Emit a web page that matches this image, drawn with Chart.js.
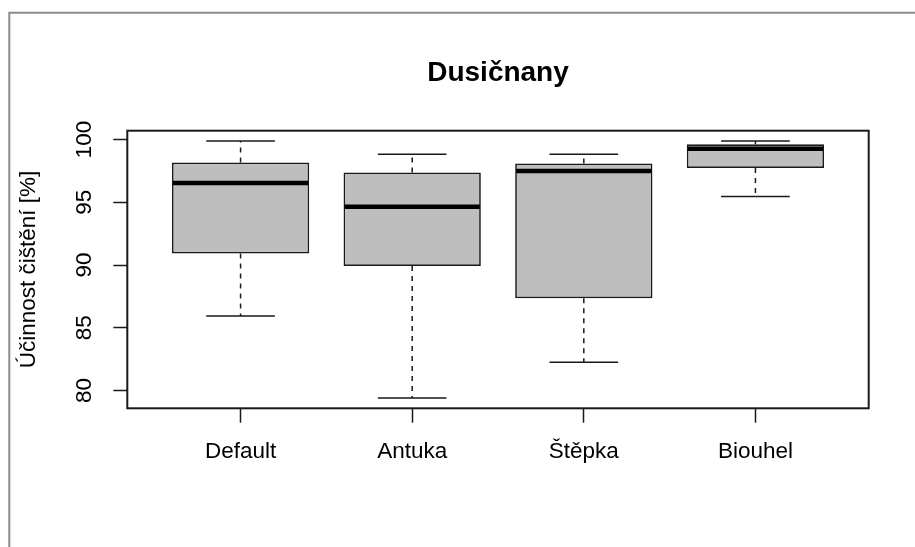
<!DOCTYPE html>
<html><head><meta charset="utf-8">
<script src="https://cdn.jsdelivr.net/npm/chart.js@4"></script>
<style>html,body{margin:0;padding:0;background:#fff;} canvas{display:block;}</style>
</head><body>
<canvas id="c" width="915" height="547"></canvas>
<script>
const categories = ['Default', 'Antuka', 'Štěpka', 'Biouhel'];
const positions = [1, 2, 3, 4];
const whiskerLow = [85.94, 79.40, 82.26, 95.47];
const q1 = [90.93, 89.92, 87.35, 97.74];
const medians = [96.55, 94.64, 97.50, 99.28];
const q3 = [98.17, 97.37, 98.09, 99.63];
const whiskerHigh = [99.89, 98.83, 98.83, 99.89];
const yTicks = [80, 85, 90, 95, 100];

const FONT = "'Liberation Sans', Arial, Helvetica, sans-serif";
const INK = '#1a1a1a';

const boxPlugin = {
  id: 'boxParts',
  beforeDraw(chart) {
    const ctx = chart.ctx;
    ctx.save();
    ctx.fillStyle = '#ffffff';
    ctx.fillRect(0, 0, chart.width, chart.height);
    ctx.strokeStyle = '#8c8c8c';
    ctx.lineWidth = 2;
    ctx.beginPath();
    ctx.moveTo(9.3, chart.height + 2);
    ctx.lineTo(9.3, 12.7);
    ctx.lineTo(chart.width + 2, 12.7);
    ctx.stroke();
    ctx.restore();
  },
  afterDatasetsDraw(chart) {
    const { ctx, scales: { x, y }, chartArea } = chart;
    const meta = chart.getDatasetMeta(0);
    ctx.save();
    ctx.strokeStyle = INK;
    positions.forEach((p, i) => {
      const bar = meta.data[i];
      const half = bar.width / 2;
      const cx = x.getPixelForValue(p);
      const capHalf = half / 2;
      ctx.lineWidth = 1.5;
      ctx.setLineDash([5, 5]);
      ctx.beginPath();
      ctx.moveTo(cx, y.getPixelForValue(q3[i]));
      ctx.lineTo(cx, y.getPixelForValue(whiskerHigh[i]));
      ctx.moveTo(cx, y.getPixelForValue(q1[i]));
      ctx.lineTo(cx, y.getPixelForValue(whiskerLow[i]));
      ctx.stroke();
      ctx.setLineDash([]);
      ctx.beginPath();
      ctx.moveTo(cx - capHalf, y.getPixelForValue(whiskerHigh[i]));
      ctx.lineTo(cx + capHalf, y.getPixelForValue(whiskerHigh[i]));
      ctx.moveTo(cx - capHalf, y.getPixelForValue(whiskerLow[i]));
      ctx.lineTo(cx + capHalf, y.getPixelForValue(whiskerLow[i]));
      ctx.stroke();
      ctx.lineWidth = 4.5;
      ctx.strokeStyle = '#000';
      ctx.beginPath();
      ctx.moveTo(cx - half + 1, y.getPixelForValue(medians[i]));
      ctx.lineTo(cx + half - 1, y.getPixelForValue(medians[i]));
      ctx.stroke();
      ctx.strokeStyle = INK;
    });
    ctx.lineWidth = 2;
    ctx.strokeStyle = INK;
    ctx.strokeRect(chartArea.left, chartArea.top, chartArea.right - chartArea.left, chartArea.bottom - chartArea.top);
    ctx.restore();
  }
};

new Chart(document.getElementById('c'), {
  type: 'bar',
  data: {
    datasets: [{
      data: positions.map((p, i) => ({ x: p, y: [q1[i], q3[i]] })),
      backgroundColor: '#BEBEBE',
      borderColor: INK,
      borderWidth: 1.7,
      borderSkipped: false,
      barPercentage: 0.8,
      categoryPercentage: 1
    }]
  },
  options: {
    responsive: false,
    devicePixelRatio: 1,
    animation: false,
    layout: { padding: { left: 0, right: 46.3, top: 0, bottom: 0 } },
    plugins: {
      legend: { display: false },
      tooltip: { enabled: false },
      title: {
        display: true,
        fullSize: false,
        text: 'Dusičnany',
        color: '#000',
        font: { family: FONT, size: 28, weight: 'bold', lineHeight: 1.2 },
        padding: { top: 56, bottom: 41.1 }
      }
    },
    scales: {
      x: {
        type: 'linear',
        offset: false,
        min: 0.34,
        max: 4.66,
        afterBuildTicks: s => { s.ticks = positions.map(v => ({ value: v })); },
        afterFit: s => { s.height = 547 - 408.3; },
        ticks: {
          callback: (v, i) => categories[i],
          color: '#000',
          font: { family: FONT, size: 22.5, lineHeight: 1.2 },
          padding: 15.8,
          autoSkip: false,
          maxRotation: 0
        },
        grid: { offset: false, drawOnChartArea: false, drawTicks: true, tickLength: 14.4, tickWidth: 1.5, tickColor: INK },
        border: { display: false }
      },
      y: {
        type: 'linear',
        min: 78.58,
        max: 100.71,
        afterBuildTicks: s => { s.ticks = yTicks.map(v => ({ value: v })); },
        afterFit: s => { s.width = 127.3; },
        ticks: {
          minRotation: 90,
          maxRotation: 90,
          crossAlign: 'center',
          padding: 9.5,
          color: '#000',
          font: { family: FONT, size: 22.5, lineHeight: 1.2 }
        },
        grid: { drawOnChartArea: false, drawTicks: true, tickLength: 14, tickWidth: 1.5, tickColor: INK },
        border: { display: false },
        title: {
          display: true,
          text: 'Účinnost čištění [%]',
          color: '#000',
          font: { family: FONT, size: 22.5, lineHeight: 1.2 },
          padding: { top: 15.5, bottom: 0 }
        }
      }
    }
  },
  plugins: [boxPlugin]
});
</script>
</body></html>
